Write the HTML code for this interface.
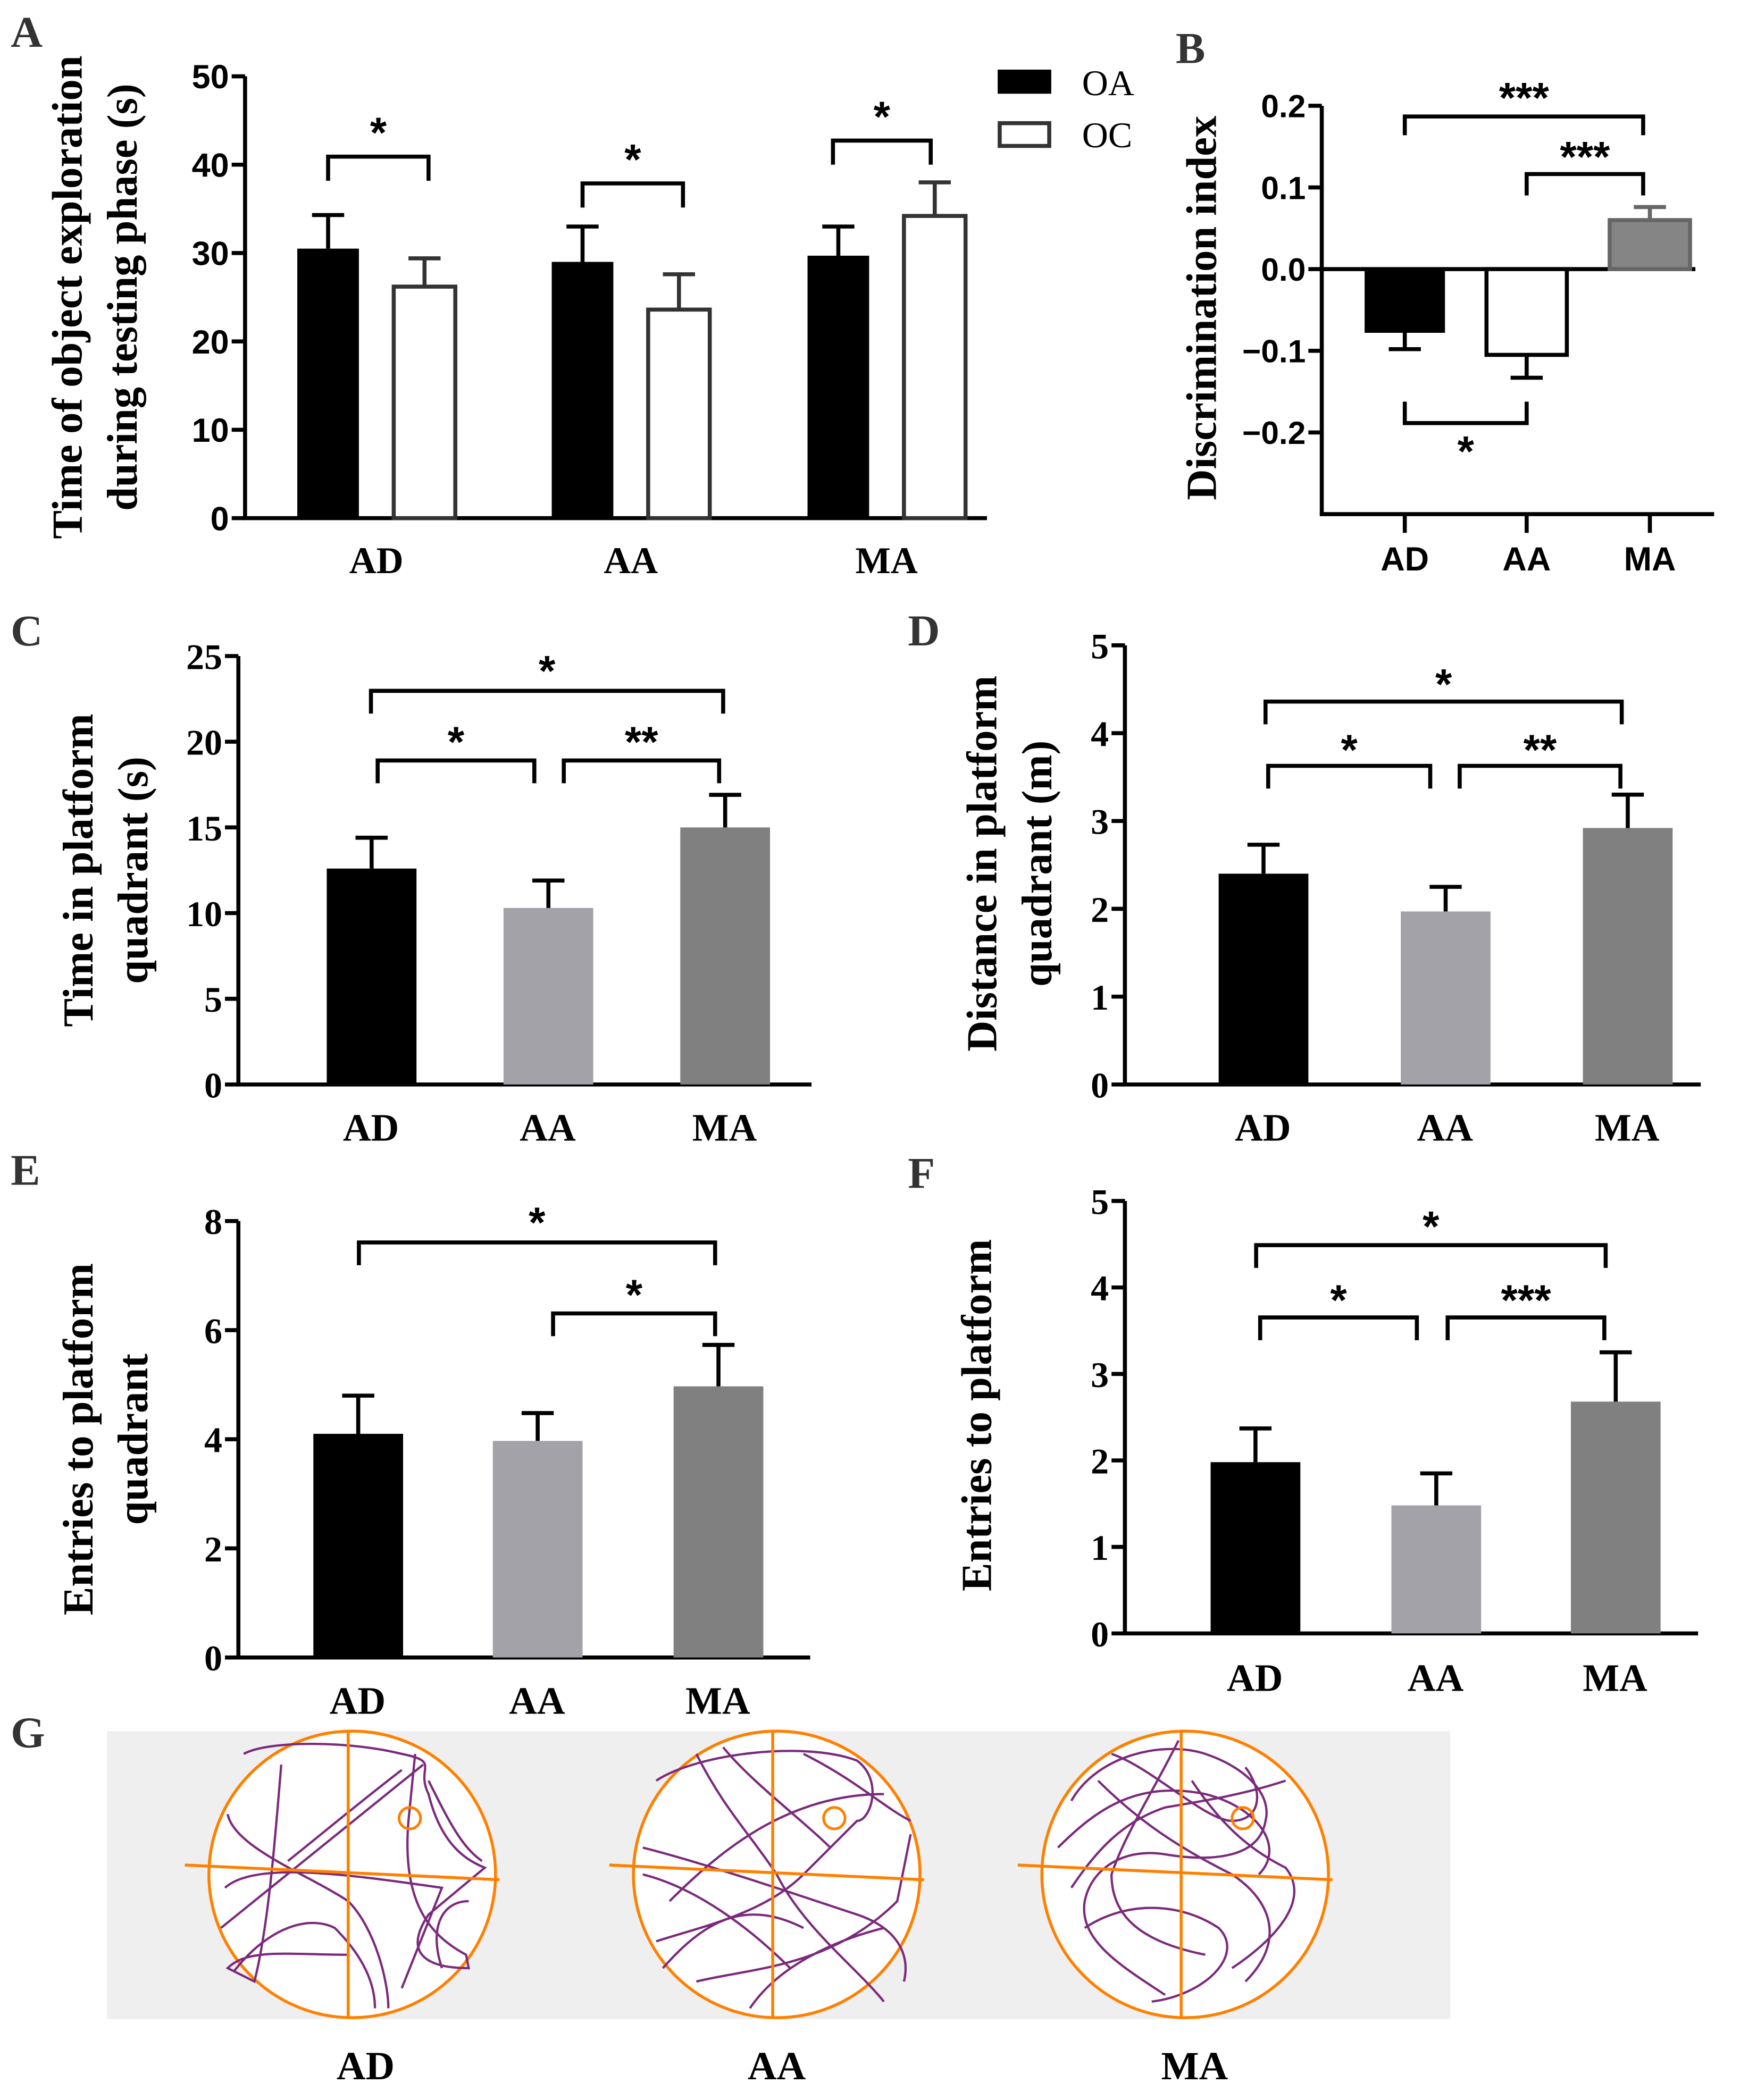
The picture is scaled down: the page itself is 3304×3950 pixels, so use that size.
<!DOCTYPE html>
<html><head><meta charset="utf-8"><style>
html,body{margin:0;padding:0;background:#fff;}
svg{display:block;}
.ser{font-family:"Liberation Serif",serif;font-weight:bold;}
.san{font-family:"Liberation Sans",sans-serif;font-weight:bold;}
</style></head><body>
<svg id="fig" width="3304" height="3950" viewBox="0 0 1312 1568.5" preserveAspectRatio="none" xmlns="http://www.w3.org/2000/svg">
<rect width="1312" height="1569" fill="#fff"/>
<g id="root"></g>
</svg>
<script>
// ---- data ----
const groupsA = ["AD","AA","MA"];
const oaValuesA = [30.5, 29.0, 29.7];
const oaErrA = [3.8, 4.0, 3.3];
const ocValuesA = [26.2, 23.6, 34.2];
const ocErrA = [3.2, 4.0, 3.8];
const ticksA = [0,10,20,30,40,50];

const groupsB = ["AD","AA","MA"];
const valuesB = [-0.078, -0.105, 0.060];
const errB = [0.020, 0.028, 0.016];
const ticksB = [-0.2,-0.1,0.0,0.1,0.2];
const tickLabelsB = ["\u22120.2","\u22120.1","0.0","0.1","0.2"];

const groupsC = ["AD","AA","MA"];
const valuesC = [12.6, 10.3, 15.0];
const errC = [1.8, 1.6, 1.9];
const ticksC = [0,5,10,15,20,25];

const groupsD = ["AD","AA","MA"];
const valuesD = [2.40, 1.97, 2.92];
const errD = [0.33, 0.28, 0.38];
const ticksD = [0,1,2,3,4,5];

const groupsE = ["AD","AA","MA"];
const valuesE = [4.1, 3.97, 4.97];
const errE = [0.7, 0.51, 0.76];
const ticksE = [0,2,4,6,8];

const groupsF = ["AD","AA","MA"];
const valuesF = [1.98, 1.48, 2.68];
const errF = [0.39, 0.37, 0.57];
const ticksF = [0,1,2,3,4,5];

const NS="http://www.w3.org/2000/svg";
const root=document.getElementById('root');
function mk(tag,attrs,parent,text){const e=document.createElementNS(NS,tag);for(const k in attrs)e.setAttribute(k,attrs[k]);if(text!==undefined)e.textContent=text;(parent||root).appendChild(e);return e;}
function line(x1,y1,x2,y2,g,w,c){return mk('line',{x1,y1,x2,y2,stroke:c||'#000','stroke-width':w||3},g);}

function axisPanel(o){
  const g=mk('g',{});
  
  
  const y=v=>o.y0+(v-o.vmin)*(o.ytop-o.y0)/(o.vmax-o.vmin);
  o.y=y;
  line(o.ax,o.ytop,o.ax,o.ybot,g,3);
  line(o.ax-1.5,o.ybot,o.axEnd,o.ybot,g,3);
  o.ticks.forEach((t,i)=>{
    line(o.ax-10,y(t),o.ax,y(t),g,3);
    const tl=mk('text',{x:o.ax-12,y:y(t)+o.tfs*0.36,'text-anchor':'end','font-size':o.tfs,class:o.tclass},g,o.tlabels?o.tlabels[i]:String(t));
    
    
  });
  return g;
}
function bar(g,x,w,v,e,o,fill,stroke){
  const y=o.y, yb=y(0), yv=y(v);
  const top=Math.min(yb,yv),h=Math.abs(yb-yv);
  const r=mk('rect',{x:x,y:top,width:w,height:h,fill:fill,stroke:stroke||'none','stroke-width':stroke?3:0},g);
  
  
  const ye=y(v+(v<0?-e:e));
  const cx=x+w/2;
  const c=stroke?stroke:'#000';
  line(cx,yv,cx,ye,g,3,c);
  line(cx-12,ye,cx+12,ye,g,3,c);
}
function bracket(g,x1,x2,yb,drop,label,ly,fs){
  mk('polyline',{points:`${x1},${yb+drop} ${x1},${yb} ${x2},${yb} ${x2},${yb+drop}`,fill:'none',stroke:'#000','stroke-width':3},g);
  const t=mk('text',{x:(x1+x2)/2,y:ly,'text-anchor':'middle','font-size':fs||32,class:'san'},g,label);
  
  
}
function txt(x,y,s,fs,cls,name,extra){const t=mk('text',Object.assign({x,y,'font-size':fs,class:cls},extra||{}),root,s);return t;}
function ytitle(x,cy,s,fs,name){const t=mk('text',{x:0,y:0,'font-size':fs,class:'ser','text-anchor':'middle',transform:`translate(${x},${cy}) rotate(-90)`},root,s);}

// Panel letters
[["A",8,35],["B",878,47],["C",8,482],["D",678,482],["E",8,885],["F",678,887],["G",8,1305]].forEach(p=>{
  txt(p[1],p[2],p[0],33,'ser','panel-label-'+p[0].toLowerCase(),{fill:'#333'});
});

// ---- Panel A ----
(function(){
  const o={name:'panel-a',ax:183,ytop:57,ybot:387,y0:387,vmin:0,vmax:50,axEnd:737,ticks:ticksA,tfs:25,tclass:'san'};
  const g=axisPanel(o);
  const centers=[281,471,662];
  groupsA.forEach((c,i)=>{
    bar(g,centers[i]-59,46,oaValuesA[i],oaErrA[i],o,'#000');
    bar(g,centers[i]+13,46,ocValuesA[i],ocErrA[i],o,'#fff','#333');
    const t=mk('text',{x:centers[i],y:428,'text-anchor':'middle','font-size':28,class:'ser'},g,c);
    
    
  });
  bracket(g,245,320,117,18,'*',110);
  bracket(g,435,510,137,18,'*',130);
  bracket(g,622,695,105,18,'*',98);
  const l1=mk('rect',{x:745,y:52,width:40,height:18,fill:'#000'},g);
  const l2=mk('rect',{x:746.5,y:92,width:37,height:17,fill:'#fff',stroke:'#333','stroke-width':3},g);
  const t1=mk('text',{x:808,y:71,'font-size':27,'font-family':'Liberation Serif, serif'},g,'OA');
  const t2=mk('text',{x:808,y:110,'font-size':27,'font-family':'Liberation Serif, serif'},g,'OC');
  ytitle(61,222,'Time of object exploration',32,'y-axis-title-a');
  ytitle(102,222,'during testing phase (s)',32,'y-axis-title-a-line2');
})();

// ---- Panel B ----
(function(){
  const o={name:'panel-b',ax:987,ytop:79,ybot:384,y0:201,vmin:0,vmax:0.2,axEnd:1280,ticks:ticksB,tlabels:tickLabelsB,tfs:24,tclass:'san'};
  const g=axisPanel(o);
  line(987,201,1266,201,g,3);
  const centers=[1049,1140,1232];
  const fills=['#000','#fff','#858585'],strokes=[null,'#000','#666'];
  groupsB.forEach((c,i)=>{
    bar(g,centers[i]-30,60,valuesB[i],errB[i],o,fills[i],strokes[i]);
    line(centers[i],384,centers[i],398,g,3);
    const t=mk('text',{x:centers[i],y:426,'text-anchor':'middle','font-size':25,class:'san'},g,c);
    
    
  });
  bracket(g,1049,1227,87,14,'***',84);
  bracket(g,1140,1227,130,16,'***',128);
  bracket(g,1049,1140,316,-16,'*',348);
  ytitle(908,230,'Discrimination index',32,'y-axis-title-b');
})();

function simplePanel(p){
  const o={name:p.name,ax:p.ax,ytop:p.ytop,ybot:p.y0,y0:p.y0,vmin:0,vmax:p.vmax,axEnd:p.axEnd,ticks:p.ticks,tfs:27,tclass:'ser'};
  const g=axisPanel(o);
  const fills=['#000','#a3a2a8','#808080'];
  p.groups.forEach((c,i)=>{
    bar(g,p.centers[i]-33,67,p.values[i],p.err[i],o,fills[i]);
    const t=mk('text',{x:p.centers[i],y:p.labY,'text-anchor':'middle','font-size':29,class:'ser'},g,c);
    
    
  });
  p.brackets.forEach(b=>bracket(g,b[0],b[1],b[2],17,b[3],b[4]));
}
simplePanel({name:'panel-c',ax:178,ytop:490,y0:810,vmax:25,axEnd:606,ticks:ticksC,groups:groupsC,values:valuesC,err:errC,centers:[277,409,541],labY:852,
  brackets:[[277,540,516,'*',512],[282,399,568,'*',565],[421,537,568,'**',565]]});
ytitle(69,650,'Time in platform',32,'y-axis-title-c');
ytitle(110,650,'quadrant (s)',32,'y-axis-title-c-line2');

simplePanel({name:'panel-d',ax:840,ytop:482,y0:810,vmax:5,axEnd:1270,ticks:ticksD,groups:groupsD,values:valuesD,err:errD,centers:[943,1079,1215],labY:852,
  brackets:[[945,1211,524,'*',522],[947,1068,572,'*',571],[1090,1210,572,'**',571]]});
ytitle(744,645,'Distance in platform',32,'y-axis-title-d');
ytitle(785,645,'quadrant (m)',32,'y-axis-title-d-line2');

simplePanel({name:'panel-e',ax:178,ytop:912,y0:1238,vmax:8,axEnd:605,ticks:ticksE,groups:groupsE,values:valuesE,err:errE,centers:[267,401,536],labY:1280,
  brackets:[[268,534,928,'*',924],[413,534,981,'*',978]]});
ytitle(69,1075,'Entries to platform',32,'y-axis-title-e');
ytitle(110,1075,'quadrant',32,'y-axis-title-e-line2');

simplePanel({name:'panel-f',ax:840,ytop:897,y0:1220,vmax:5,axEnd:1268,ticks:ticksF,groups:groupsF,values:valuesF,err:errF,centers:[937,1072,1206],labY:1263,
  brackets:[[938,1199,930,'*',927],[941,1058,984,'*',982],[1081,1198,984,'***',982]]});
ytitle(740,1057,'Entries to platform',32,'y-axis-title-f');

// ---- Panel G ----
(function(){
  const g=mk('g',{});
  
  
  mk('rect',{x:80,y:1293,width:1003,height:215,fill:'#efefef'},g);
  const pools=[[263,1400,'AD',273],[580,1400,'AA',580],[885,1400,'MA',892]];
  const paths=[
    "M182,1310 C200,1300 260,1300 300,1310 C330,1316 310,1320 320,1340 C330,1380 350,1390 362,1395 L320,1430 C300,1460 320,1470 350,1470 L348,1460 C320,1445 300,1420 305,1360 L310,1310 M170,1355 C175,1380 230,1400 260,1420 C280,1440 290,1480 290,1500 M165,1440 C190,1420 240,1380 316,1318 M168,1410 C190,1390 260,1400 330,1410 L300,1485 M210,1318 C205,1380 200,1440 190,1480 L170,1470 C185,1455 215,1460 260,1460 M215,1390 C240,1370 270,1345 300,1322 M175,1472 C200,1440 230,1430 250,1440 C270,1460 280,1480 280,1500 M320,1330 C335,1360 345,1380 360,1390 M330,1470 C320,1440 330,1420 350,1420",
    "M490,1330 C520,1310 600,1300 640,1315 C660,1330 650,1360 640,1360 L600,1400 C570,1430 520,1440 490,1450 M520,1310 C540,1350 560,1370 580,1400 C600,1440 640,1470 660,1495 M480,1380 C520,1390 580,1410 640,1430 C670,1440 680,1460 675,1480 M500,1420 C540,1380 590,1340 660,1340 M520,1480 C560,1470 620,1470 670,1420 L680,1370 M495,1470 C530,1430 560,1420 600,1440 M540,1305 C560,1330 600,1360 620,1380 M480,1400 C520,1410 560,1440 590,1470 M600,1310 C640,1330 660,1350 680,1360 M560,1500 C580,1470 620,1450 660,1440",
    "M800,1345 C820,1310 870,1300 900,1310 C930,1320 950,1340 945,1360 C940,1390 900,1390 870,1385 C840,1380 815,1395 810,1420 C805,1450 840,1470 870,1490 M820,1330 C850,1360 880,1380 920,1400 C950,1420 960,1450 930,1480 M880,1300 C860,1340 840,1370 830,1400 C830,1430 850,1450 900,1460 M960,1330 C930,1340 900,1345 870,1350 C840,1360 820,1380 800,1410 M890,1330 C910,1360 930,1380 960,1395 C980,1420 950,1450 920,1470 M790,1380 C820,1350 850,1330 900,1340 C940,1350 960,1380 940,1400 M830,1310 C860,1320 900,1360 920,1360 C940,1360 945,1340 930,1320 M810,1440 C840,1420 880,1420 910,1440 C930,1460 900,1490 860,1495"
  ];
  pools.forEach((p,i)=>{
    const [cx,cy]=p;
    const gp=mk('g',{},g);
    
    
    mk('circle',{cx,cy,r:107,fill:'#fff',stroke:'#ff8000','stroke-width':2.2},gp);
    mk('path',{d:paths[i],fill:'none',stroke:'#7b2a7b','stroke-width':1.7},gp);
    mk('line',{x1:cx-3,y1:cy-107,x2:cx-3,y2:cy+107,stroke:'#ff8000','stroke-width':2.2},gp);
    mk('line',{x1:cx-125,y1:cy-7,x2:cx+110,y2:cy+4,stroke:'#ff8000','stroke-width':2.2},gp);
    mk('circle',{cx:cx+43,cy:cy-42,r:8,fill:'none',stroke:'#ff8000','stroke-width':2},gp);
    const t=mk('text',{x:p[3],y:1553,'text-anchor':'middle','font-size':30,class:'ser'},g,p[2]);
    
    
  });
})();
</script>
</body></html>
